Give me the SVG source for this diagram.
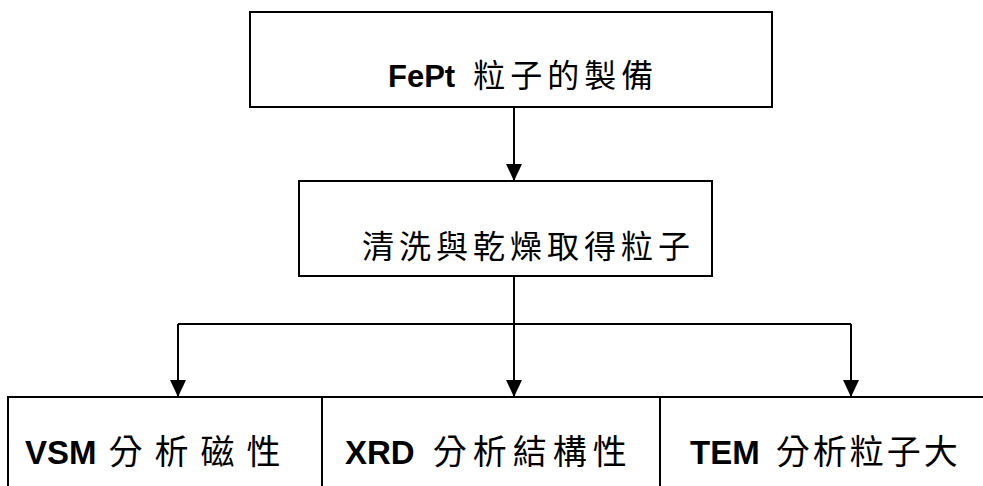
<svg xmlns="http://www.w3.org/2000/svg" width="983" height="486" viewBox="0 0 983 486">
  <style>
    .box { fill: #fff; stroke: #000; stroke-width: 2; }
    .wire { fill: none; stroke: #000; stroke-width: 2; }
    .lat { font-family: "Liberation Sans", Arial, sans-serif; font-weight: bold; font-size: 31px; }
    .cjk { font-family: "Noto Sans CJK TC", "Noto Sans CJK SC", sans-serif; font-size: 32px; letter-spacing: 5px; }
    .big { font-size: 34px; }
    .lat.big { font-size: 33px; }
    text { fill: #000; }
  </style>
  <defs>
    <!-- solid triangular arrowhead, tip at the end of the line -->
    <marker id="head" viewBox="0 0 17 16" refX="17" refY="8" markerWidth="17" markerHeight="16" markerUnits="userSpaceOnUse" orient="auto">
      <path d="M0,0 L17,8 L0,16 Z" fill="#000"/>
    </marker>
  </defs>

  <g id="prep">
    <rect class="box" x="250" y="12" width="522" height="95"/>
    <text x="388" y="87"><tspan class="lat">FePt</tspan><tspan class="cjk" dx="18">粒子的製備</tspan></text>
  </g>

  <g id="wash">
    <rect class="box" x="299" y="181" width="413" height="95"/>
    <text class="cjk" x="362" y="258">清洗與乾燥取得粒子</text>
  </g>

  <g id="vsm">
    <rect class="box" x="8" y="397" width="314" height="100"/>
    <text x="25" y="464"><tspan class="lat big">VSM</tspan><tspan class="cjk big" dx="12" style="letter-spacing:12px">分析磁性</tspan></text>
  </g>

  <g id="xrd">
    <rect class="box" x="322" y="397" width="338" height="100"/>
    <text x="345" y="464"><tspan class="lat big">XRD</tspan><tspan class="cjk big" dx="18" style="letter-spacing:6px">分析結構性</tspan></text>
  </g>

  <g id="tem">
    <rect class="box" x="660" y="397" width="340" height="100"/>
    <text x="690" y="464"><tspan class="lat big">TEM</tspan><tspan class="cjk big" dx="16" style="letter-spacing:3px">分析粒子大</tspan></text>
  </g>

  <g id="connectors">
    <line class="wire" x1="514" y1="107" x2="514" y2="181" marker-end="url(#head)"/>
    <line class="wire" x1="514" y1="276" x2="514" y2="324"/>
    <line class="wire" x1="178" y1="324" x2="851" y2="324"/>
    <line class="wire" x1="178" y1="324" x2="178" y2="397" marker-end="url(#head)"/>
    <line class="wire" x1="514" y1="324" x2="514" y2="397" marker-end="url(#head)"/>
    <line class="wire" x1="851" y1="324" x2="851" y2="397" marker-end="url(#head)"/>
  </g>
</svg>
